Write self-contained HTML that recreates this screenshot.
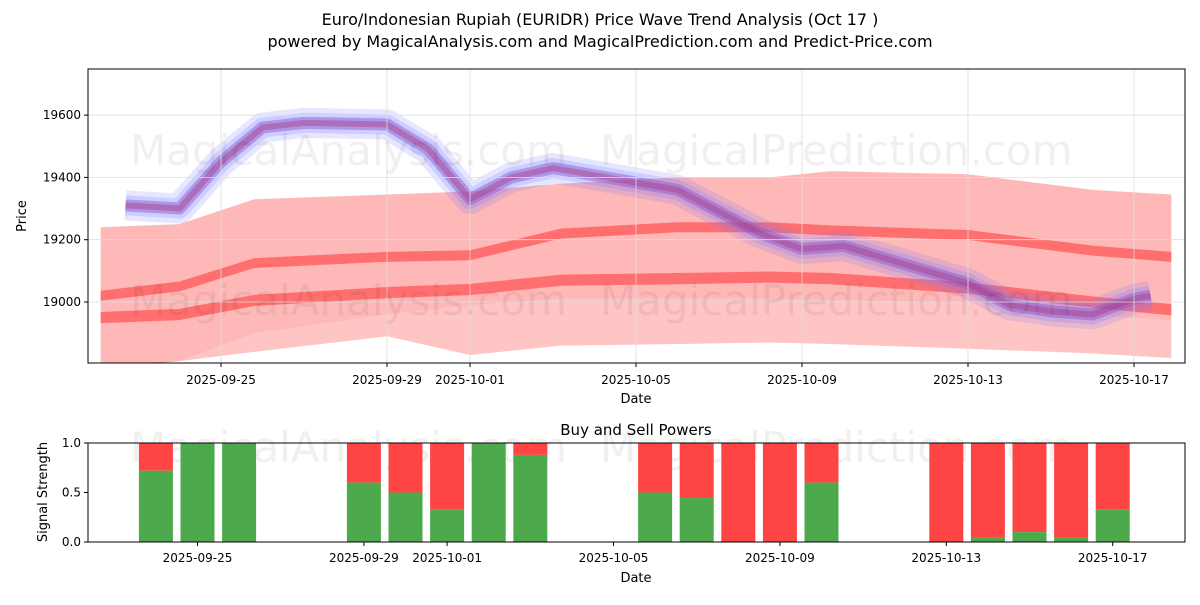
<!DOCTYPE html>
<html><head><meta charset="utf-8"><style>
body{margin:0;background:#fff;font-family:"Liberation Sans","DejaVu Sans",sans-serif}
svg text{font-family:"DejaVu Sans","Liberation Sans",sans-serif}
</style></head><body>
<svg id="c" width="1200" height="600" xmlns="http://www.w3.org/2000/svg">
<rect width="1200" height="600" fill="#fff"/>
<text x="600" y="25" text-anchor="middle" font-size="16">Euro/Indonesian Rupiah (EURIDR) Price Wave Trend Analysis (Oct 17 )</text>
<text x="600" y="47" text-anchor="middle" font-size="16">powered by MagicalAnalysis.com and MagicalPrediction.com and Predict-Price.com</text>
<g id="top"></g><g id="bot"></g>
</svg>
<script>
// top chart data (days offset from 2025-09-25)
const bandDays=[-2.9,-1,0.8,4,6,8.2,11,13.2,14.7,18,21,22.9];
const bandTop=[19240,19250,19330,19345,19355,19380,19400,19400,19420,19410,19360,19345];
const bandBottom=[18790,18810,18900,18960,18990,19010,19010,19010,19005,19000,18960,18940];
const redMid1=[19020,19050,19125,19145,19150,19220,19240,19240,19230,19215,19165,19145];
const redMid2=[18950,18960,19005,19030,19040,19070,19075,19080,19075,19045,19000,18975];
const bandLow2=[18800,18810,18840,18890,18830,18860,18865,18870,18865,18850,18835,18820];
const blueDays=[-2.3,-1,0,1,2,4,5,6,7,8,11,12,13,14,15,18,19,20,21,22,22.4];
const blueVals=[19310,19300,19450,19560,19575,19570,19490,19330,19400,19430,19360,19290,19220,19170,19180,19060,18990,18970,18960,19010,19020];
const yTicks=[19000,19200,19400,19600];
const xTickDays=[0,4,6,10,14,18,22];
const xTickLabels=["2025-09-25","2025-09-29","2025-10-01","2025-10-05","2025-10-09","2025-10-13","2025-10-17"];
// bottom chart data
const barDays=[-1,0,1,4,5,6,7,8,11,12,13,14,15,18,19,20,21,22];
const buyVals=[0.72,1,1,0.6,0.5,0.33,1,0.88,0.5,0.45,0,0,0.6,0,0.05,0.1,0.05,0.33];
const powTicks=[0,0.5,1];
const NS="http://www.w3.org/2000/svg";
function mk(p,t,a){const e=document.createElementNS(NS,t);for(const k in a)e.setAttribute(k,a[k]);p.appendChild(e);return e;}
const T=document.getElementById('top'),B=document.getElementById('bot');
const X=d=>221+41.5*d, Y=v=>302-(v-19000)*62.3/200;
const XB=d=>197.5+41.6*d, YB=v=>542-v*99;
mk(T,'defs',{}).innerHTML='<clipPath id="cp"><rect x="88" y="69" width="1097" height="294"/></clipPath>';
const g=mk(T,'g',{'clip-path':'url(#cp)'});
function band(top,bot,fill,op,name,off){
  let d='M'+bandDays.map((x,i)=>X(x)+','+Y(top[i]+(off||0))).join('L');
  for(let i=bandDays.length-1;i>=0;i--)d+='L'+X(bandDays[i])+','+Y(bot[i]-(off||0));
  const p=mk(g,'path',{d:d+'Z',fill:fill,'fill-opacity':op});
  
}
band(bandTop,bandBottom,'#ff5555',0.42,'red-wave-band');
band(bandBottom,bandLow2,'#ff5555',0.35,'red-wave-band-low');
band(redMid1,redMid1,'#ff3333',0.55,'red-wave-upper',16);
band(redMid2,redMid2,'#ff3333',0.55,'red-wave-lower',18);
const pts=blueDays.map((x,i)=>X(x)+','+Y(blueVals[i])).join(' ');
[[30,'#7777ff',0.18],[20,'#7777ff',0.22],[12,'#8855cc',0.45],[6,'#aa3377',0.4]].forEach(([w,c,o],i)=>{
  const l=mk(g,'polyline',{points:pts,fill:'none',stroke:c,'stroke-width':w,'stroke-opacity':o,'stroke-linejoin':'round'});
  
});
yTicks.forEach(v=>{mk(T,'line',{x1:88,x2:1185,y1:Y(v),y2:Y(v),stroke:'#ddd','stroke-width':0.8});
 mk(T,'line',{x1:84,x2:88,y1:Y(v),y2:Y(v),stroke:'#000'});
 const t=mk(T,'text',{x:81,y:Y(v)+4,'text-anchor':'end','font-size':12});t.textContent=v;
 });
xTickDays.forEach((d,i)=>{mk(T,'line',{x1:X(d),x2:X(d),y1:69,y2:363,stroke:'#ddd','stroke-width':0.8});
 mk(T,'line',{x1:X(d),x2:X(d),y1:363,y2:367,stroke:'#000'});
 const t=mk(T,'text',{x:X(d),y:384,'text-anchor':'middle','font-size':12});t.textContent=xTickLabels[i];
 });
mk(T,'rect',{x:88,y:69,width:1097,height:294,fill:'none',stroke:'#000'});
let t=mk(T,'text',{x:636,y:403,'text-anchor':'middle','font-size':13});t.textContent='Date';

t=mk(T,'text',{x:26,y:216,'text-anchor':'middle','font-size':13,transform:'rotate(-90 26 216)'});t.textContent='Price';

[[130,165],[600,165],[130,315],[600,315]].forEach(([x,y],i)=>{const w=mk(T,'text',{x:x,y:y,'font-size':42,fill:'#000','fill-opacity':0.06});
 w.textContent=i%2?'MagicalPrediction.com':'MagicalAnalysis.com';});
t=mk(B,'text',{x:636,y:435,'text-anchor':'middle','font-size':15});t.textContent='Buy and Sell Powers';

[[130,462],[600,462]].forEach(([x,y],i)=>{const w=mk(B,'text',{x:x,y:y,'font-size':42,fill:'#000','fill-opacity':0.06});
 w.textContent=i?'MagicalPrediction.com':'MagicalAnalysis.com';});
barDays.forEach((d,i)=>{const x=XB(d)-17;
 const r=mk(B,'rect',{x:x,y:YB(1),width:34,height:YB(buyVals[i])-YB(1),fill:'#ff4444'});
 
 const gr=mk(B,'rect',{x:x,y:YB(buyVals[i]),width:34,height:YB(0)-YB(buyVals[i]),fill:'#4caa4c'});
 });
powTicks.forEach(v=>{mk(B,'line',{x1:84,x2:88,y1:YB(v),y2:YB(v),stroke:'#000'});
 const s=mk(B,'text',{x:81,y:YB(v)+4,'text-anchor':'end','font-size':12});s.textContent=v.toFixed(1);
 });
xTickDays.forEach((d,i)=>{mk(B,'line',{x1:XB(d),x2:XB(d),y1:542,y2:546,stroke:'#000'});
 const s=mk(B,'text',{x:XB(d),y:562,'text-anchor':'middle','font-size':12});s.textContent=xTickLabels[i];
 });
mk(B,'rect',{x:88,y:443,width:1097,height:99,fill:'none',stroke:'#000'});
t=mk(B,'text',{x:636,y:582,'text-anchor':'middle','font-size':13});t.textContent='Date';

t=mk(B,'text',{x:47,y:492,'text-anchor':'middle','font-size':13,transform:'rotate(-90 47 492)'});t.textContent='Signal Strength';

</script>
</body></html>
